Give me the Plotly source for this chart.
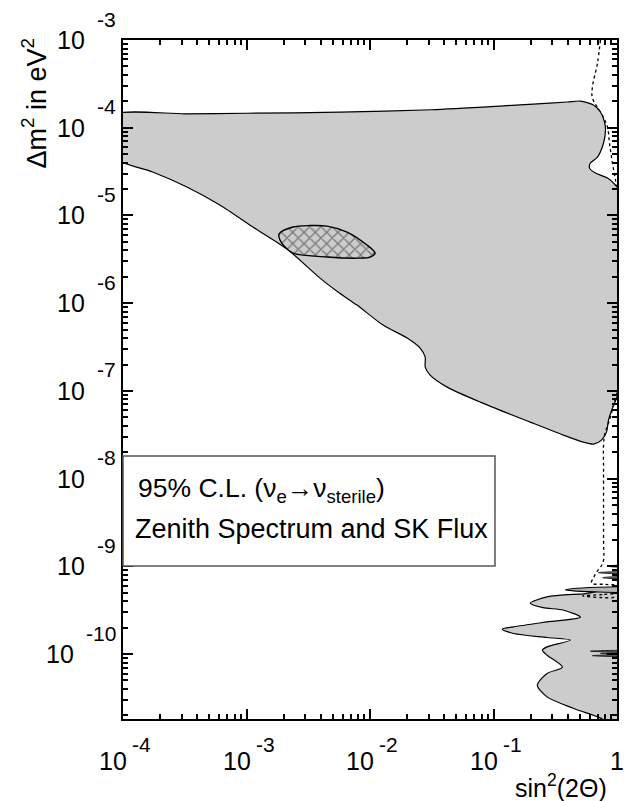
import numpy as np
import plotly.graph_objects as go

# ---- data (log10 sin^2(2theta), log10 dm^2) ----
main_lx = [-4.05, -3.5, -3.0, -2.242, -1.5, -0.945, -0.677, -0.401, -0.296, -0.191, -0.134,
           -0.101, -0.093, -0.109, -0.158, -0.215, -0.223, -0.174, -0.077, -0.028, 0.02,
           0.02, 0.02, -0.037, -0.069, -0.085, -0.126, -0.191, -0.272, -0.434, -0.702,
           -1.107, -1.375, -1.513, -1.553, -1.553, -1.594, -1.699, -1.894, -2.105, -2.259,
           -2.405, -2.672, -2.948, -3.216, -3.483, -3.759, -4.05, -4.05, -4.05, -4.05]
main_ly = [-3.845, -3.841, -3.835, -3.823, -3.795, -3.753, -3.730, -3.707, -3.696, -3.741,
           -3.821, -3.935, -4.026, -4.174, -4.334, -4.402, -4.460, -4.517, -4.574, -4.631,
           -4.720, -5.800, -6.980, -7.196, -7.333, -7.470, -7.561, -7.607, -7.584, -7.504,
           -7.356, -7.128, -6.957, -6.820, -6.729, -6.615, -6.512, -6.398, -6.250, -6.022,
           -5.873, -5.714, -5.383, -5.132, -4.881, -4.676, -4.505, -4.360, -4.2, -4.0, -3.845]

hatch_lx = [-2.737, -2.624, -2.485, -2.348, -2.186, -2.024, -1.959, -1.999, -2.080, -2.348,
            -2.624, -2.689, -2.729, -2.737]
hatch_ly = [-5.212, -5.132, -5.115, -5.121, -5.189, -5.338, -5.429, -5.474, -5.486, -5.474,
            -5.429, -5.360, -5.280, -5.212]

low_lx = [0.02, -0.25, -0.566, -0.702, -0.6, -0.431, -0.296,
          -0.566, -0.837, -0.929, -0.837, -0.566, -0.377,
          -0.566, -0.604, -0.566, -0.442,
          -0.566, -0.645, -0.566, -0.350, -0.134, -0.05, 0.02, 0.02]
low_ly = [-9.27, -9.31, -9.348, -9.42, -9.47, -9.50, -9.579,
          -9.633, -9.690, -9.716, -9.765, -9.811, -9.841,
          -9.918, -9.956, -10.013, -10.149,
          -10.221, -10.355, -10.488, -10.620, -10.73, -10.80, -10.80, -9.27]

sliver_lx = [0.02, -0.15, -0.35, -0.418, -0.35, -0.15, 0.02]
sliver_ly = [-9.232, -9.238, -9.252, -9.266, -9.280, -9.292, -9.298]

dark_lobes = [
    ([0.02, -0.03, -0.077, -0.03, 0.02], [-8.988, -8.990, -8.998, -9.006, -9.008]),
    ([0.02, -0.08, -0.150, -0.08, 0.02], [-9.061, -9.064, -9.072, -9.080, -9.083]),
    ([0.02, -0.06, -0.117, -0.06, 0.02], [-9.118, -9.121, -9.129, -9.137, -9.140]),
    ([0.02, -0.10, -0.215, -0.10, 0.02], [-9.957, -9.960, -9.967, -9.974, -9.977]),
    ([0.02, -0.06, -0.134, -0.06, 0.02], [-9.985, -9.987, -9.992, -9.997, -9.999]),
    ([0.02, -0.10, -0.199, -0.10, 0.02], [-10.008, -10.011, -10.018, -10.025, -10.028]),
]

dot_top_lx = [-0.134, -0.158, -0.199, -0.199, -0.12, -0.077, -0.061, -0.037, -0.012, 0.0]
dot_top_ly = [-3.0, -3.262, -3.536, -3.661, -3.855, -3.992, -4.174, -4.402, -4.596, -4.71]

dot_low_lx = [0.0, -0.025, -0.06, -0.10, -0.109, -0.109, -0.109, -0.109, -0.109, -0.125,
              -0.158, -0.19, -0.207, -0.1, 0.01]
dot_low_ly = [-7.02, -7.15, -7.33, -7.50, -7.62, -7.90, -8.30, -8.70, -8.93, -8.99,
              -9.05, -9.13, -9.19, -9.205, -9.21]

dot_loop_lx = [-0.028, -0.12, -0.277, -0.12, -0.028, -0.028]
dot_loop_ly = [-9.318, -9.322, -9.338, -9.356, -9.352, -9.318]

x_tick_exps = [-4, -3, -2, -1, 0]
y_tick_exps = [-3, -4, -5, -6, -7, -8, -9, -10]
y_range = [-10.74, -3.0]
x_range = [-4.0, 0.0]

legend_line1 = "95% C.L. (ν<sub>e</sub>→ν<sub>sterile</sub>)"
legend_line2 = "Zenith Spectrum and SK Flux"
x_title = "sin<sup>2</sup>(2Θ)"
y_title = "Δm<sup>2</sup> in eV<sup>2</sup>"

# ---- figure ----
FONT = "Liberation Sans, Arial, Helvetica, sans-serif"
GRAY = "#cccccc"
W, H = 629, 801
L, R, T, B = 123, 12, 40, 82
pw, ph = W - L - R, H - T - B


def lin(v):
    return 10 ** np.asarray(v, dtype=float)


fig = go.Figure()

fig.add_trace(go.Scatter(x=lin(dot_top_lx), y=lin(dot_top_ly), mode="lines",
                         line=dict(color="black", width=1.3, dash="dot", shape="spline"),
                         hoverinfo="skip"))

fig.add_trace(go.Scatter(x=lin(main_lx), y=lin(main_ly), mode="lines", fill="toself",
                         fillcolor=GRAY,
                         line=dict(color="black", width=1.2, shape="spline", smoothing=0.7),
                         hoverinfo="skip"))

fig.add_trace(go.Scatter(x=lin(hatch_lx), y=lin(hatch_ly), mode="lines", fill="toself",
                         fillcolor=GRAY,
                         fillpattern=dict(shape="x", size=8, solidity=0.3,
                                          fgcolor="#222222", bgcolor=GRAY),
                         line=dict(color="black", width=1.4, shape="spline", smoothing=0.9),
                         hoverinfo="skip"))

fig.add_trace(go.Scatter(x=lin(low_lx), y=lin(low_ly), mode="lines", fill="toself",
                         fillcolor=GRAY,
                         line=dict(color="black", width=1.2, shape="spline", smoothing=0.8),
                         hoverinfo="skip"))

fig.add_trace(go.Scatter(x=lin(sliver_lx), y=lin(sliver_ly), mode="lines", fill="toself",
                         fillcolor="#b5b5b5",
                         line=dict(color="black", width=1.1, shape="spline", smoothing=0.8),
                         hoverinfo="skip"))

for lx, ly in dark_lobes:
    fig.add_trace(go.Scatter(x=lin(lx), y=lin(ly), mode="lines", fill="toself",
                             fillcolor="#777777",
                             line=dict(color="#222222", width=1.0, shape="spline", smoothing=0.8),
                             hoverinfo="skip"))

fig.add_trace(go.Scatter(x=lin(dot_low_lx), y=lin(dot_low_ly), mode="lines",
                         line=dict(color="black", width=1.3, dash="dot", shape="spline"),
                         hoverinfo="skip"))
fig.add_trace(go.Scatter(x=lin(dot_loop_lx), y=lin(dot_loop_ly), mode="lines",
                         line=dict(color="black", width=1.3, dash="dot", shape="spline"),
                         hoverinfo="skip"))

# invisible trace that holds the overlaid (long decade tick) axes
fig.add_trace(go.Scatter(x=[None], y=[None], xaxis="x2", yaxis="y2", mode="markers",
                         hoverinfo="skip"))

major_x = [10.0 ** e for e in x_tick_exps]
all_x = sorted(major_x + [k * 10.0 ** e for e in x_tick_exps[:-1] for k in range(2, 10)])
major_y = [10.0 ** e for e in y_tick_exps]
all_y = sorted(major_y + [k * 10.0 ** e for e in range(-11, -3) for k in range(2, 10)])

# tick labels are drawn as annotations below; axis labels themselves are left empty
base_axis = dict(type="log", showticklabels=True, showgrid=False, zeroline=False,
                 tickmode="array", ticks="inside", tickwidth=1.5, tickcolor="black",
                 tickfont=dict(size=1, color="rgba(0,0,0,0)"))
fig.update_layout(
    xaxis=dict(range=x_range, tickvals=all_x, ticktext=[" "] * len(all_x), ticklen=5,
               showline=True, linewidth=2, linecolor="black", mirror="ticks", **base_axis),
    yaxis=dict(range=y_range, tickvals=all_y, ticktext=[" "] * len(all_y), ticklen=5,
               showline=True, linewidth=2, linecolor="black", mirror="ticks", **base_axis),
    xaxis2=dict(range=x_range, tickvals=major_x, ticktext=[" "] * len(major_x), ticklen=10,
                showline=False, overlaying="x", anchor="y2", side="bottom", mirror="ticks",
                **base_axis),
    yaxis2=dict(range=y_range, tickvals=major_y, ticktext=[" "] * len(major_y), ticklen=10,
                showline=False, overlaying="y", anchor="x2", side="left", mirror="ticks",
                **base_axis),
)


def px_x(p):
    return (p - L) / pw


def px_y(p):
    return (H - B - p) / ph


ann = []
base_fs, exp_fs = 25, 21
# x tick labels
for e in x_tick_exps:
    if e == 0:
        ann.append(dict(x=e, xref="x", y=px_y(761), yref="paper", text="1",
                        showarrow=False, xanchor="center", yanchor="middle",
                        font=dict(family=FONT, size=base_fs, color="black")))
    else:
        ann.append(dict(x=e, xref="x", xshift=-10, y=px_y(761), yref="paper", text="10",
                        showarrow=False, xanchor="center", yanchor="middle",
                        font=dict(family=FONT, size=base_fs, color="black")))
        ann.append(dict(x=e, xref="x", xshift=7, y=px_y(744), yref="paper", text=str(e),
                        showarrow=False, xanchor="left", yanchor="middle",
                        font=dict(family=FONT, size=exp_fs, color="black")))
# y tick labels
for e in y_tick_exps:
    s = str(e)
    wexp = 19 if len(s) == 2 else 30
    ann.append(dict(x=px_x(118), xref="paper", y=e, yref="y", yshift=21, text=s,
                    showarrow=False, xanchor="right", yanchor="middle",
                    font=dict(family=FONT, size=exp_fs, color="black")))
    ann.append(dict(x=px_x(117 - wexp - 11), xref="paper", y=e, yref="y", text="10",
                    showarrow=False, xanchor="right", yanchor="middle",
                    font=dict(family=FONT, size=base_fs, color="black")))
# axis titles
ann.append(dict(x=px_x(609), xref="paper", y=px_y(786), yref="paper", text=x_title,
                showarrow=False, xanchor="right", yanchor="middle",
                font=dict(family=FONT, size=25, color="black")))
ann.append(dict(x=px_x(34), xref="paper", y=px_y(36), yref="paper", text=y_title,
                showarrow=False, xanchor="center", yanchor="top", textangle=-90,
                font=dict(family=FONT, size=27, color="black")))
# legend box text
ann.append(dict(x=px_x(136), xref="paper", y=px_y(490), yref="paper", text=legend_line1,
                showarrow=False, xanchor="left", yanchor="middle",
                font=dict(family=FONT, size=26.5, color="black")))
ann.append(dict(x=px_x(133), xref="paper", y=px_y(529), yref="paper", text=legend_line2,
                showarrow=False, xanchor="left", yanchor="middle",
                font=dict(family=FONT, size=27, color="black")))

fig.add_shape(type="rect", xref="paper", yref="paper",
              x0=px_x(L), x1=px_x(495), y0=px_y(566), y1=px_y(456),
              line=dict(color="#555555", width=1.5), fillcolor="white", layer="above")

fig.update_layout(width=W, height=H, margin=dict(l=L, r=R, t=T, b=B, autoexpand=False),
                  plot_bgcolor="white", paper_bgcolor="white", showlegend=False,
                  annotations=ann)

fig.write_html("out.html", config={"displayModeBar": False},
               post_script="document.body.style.margin='0';document.body.style.overflow='hidden';")
